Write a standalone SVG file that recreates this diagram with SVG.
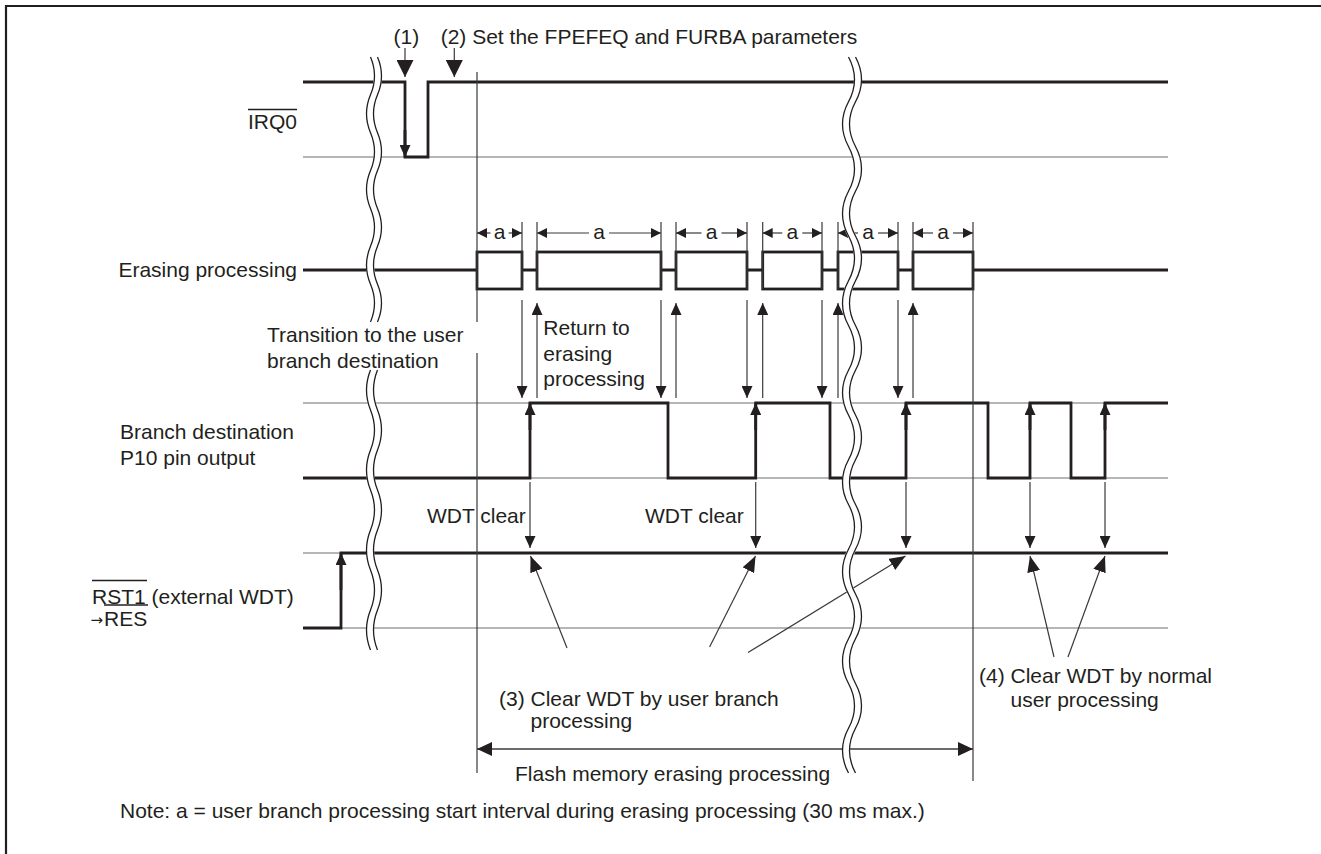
<svg xmlns="http://www.w3.org/2000/svg" width="1321" height="854" viewBox="0 0 1321 854">
<style>
.t{font-family:"Liberation Sans",Arial,Helvetica,sans-serif;font-size:21px;fill:#231f20}
.sig{fill:none;stroke:#231f20;stroke-width:2.8;stroke-linejoin:miter}
.ref{fill:none;stroke:#6d6e70;stroke-width:1.2}
.thin{fill:none;stroke:#3a3a3a;stroke-width:1.2}
.box{fill:#fff;stroke:#231f20;stroke-width:2.8}
.ol{stroke:#231f20;stroke-width:1.4}
.wb{fill:none;stroke:#fff;stroke-width:8}
.wl{fill:none;stroke:#231f20;stroke-width:1.3}
.a{marker-end:url(#mA)}
.d{marker-end:url(#mD)}
.p{marker-end:url(#mP)}
</style>
<defs>
<marker id="mA" markerUnits="userSpaceOnUse" markerWidth="12" markerHeight="11" refX="12" refY="5.5" orient="auto"><path d="M0,0L12,5.5L0,11z" fill="#231f20"/></marker>
<marker id="mL" markerUnits="userSpaceOnUse" markerWidth="17" markerHeight="17" refX="17" refY="8.5" orient="auto"><path d="M0,0L17,8.5L0,17z" fill="#231f20"/></marker>
<marker id="mD" markerUnits="userSpaceOnUse" markerWidth="10" markerHeight="10" refX="10" refY="5" orient="auto"><path d="M0,0L10,5L0,10z" fill="#231f20"/></marker>
<marker id="mP" markerUnits="userSpaceOnUse" markerWidth="16" markerHeight="13" refX="16" refY="6.5" orient="auto"><path d="M0,0L16,6.5L0,13z" fill="#231f20"/></marker>
<marker id="mF" markerUnits="userSpaceOnUse" markerWidth="15" markerHeight="14" refX="15" refY="7" orient="auto-start-reverse"><path d="M0,0L15,7L0,14z" fill="#231f20"/></marker>
<path id="wavyL1" d="M374,57 q8,18.93 0,37.86 t0,37.86 t0,37.86 t0,37.86 t0,37.86 t0,37.86 t0,37.86"/>
<path id="wavyL2" d="M374,370 q-8,20 0,40 t0,40 t0,40 t0,40 t0,40 t0,40 t0,40"/>
<path id="wavyR" d="M852,57 q12,22.375 0,44.75 t0,44.75 t0,44.75 t0,44.75 t0,44.75 t0,44.75 t0,44.75 t0,44.75 t0,44.75 t0,44.75 t0,44.75 t0,44.75 t0,44.75 t0,44.75 t0,44.75 t0,44.75"/>
</defs>

<rect x="0" y="0" width="1321" height="854" fill="#fff"/>
<path d="M6,854 V6 H1321" fill="none" stroke="#231f20" stroke-width="2.2"/>

<g id="irq0">
  <path class="ref" d="M303,157 H1168"/>
  <path class="sig" d="M303,82 H405 V157 H428 V82 H1168"/>
  <path class="sig a" d="M405,130 V157"/>
  <text class="t" x="248" y="129">IRQ0</text>
  <line class="ol" x1="248" y1="109.5" x2="297" y2="109.5"/>
</g>

<g id="erasing">
  <path class="sig" d="M303,270 H477 M522,270 H537 M661,270 H676 M747,270 H762.7 M822,270 H838 M898,270 H913 M973,270 H1168"/>
  <rect class="box" x="477" y="252" width="45" height="37"/>
  <rect class="box" x="537" y="252" width="124" height="37"/>
  <rect class="box" x="676" y="252" width="71" height="37"/>
  <rect class="box" x="762.7" y="252" width="59.3" height="37"/>
  <rect class="box" x="838" y="252" width="60" height="37"/>
  <rect class="box" x="913" y="252" width="60" height="37"/>
  <text class="t" x="297" y="277" text-anchor="end">Erasing processing</text>
</g>

<g id="p10">
  <path class="ref" d="M303,403 H1168 M303,478 H1168"/>
  <path class="sig" d="M303,478 H530 V403 H668 V478 H755.7 V403 H830 V478 H906 V403 H988 V478 H1030 V403 H1071 V478 H1105 V403 H1168"/>
  <path class="sig a" d="M530,430 V403"/>
  <path class="sig a" d="M755.7,430 V403"/>
  <path class="sig a" d="M906,430 V403"/>
  <path class="sig a" d="M1030,430 V403"/>
  <path class="sig a" d="M1105,430 V403"/>
  <text class="t" x="120" y="439">Branch destination</text>
  <text class="t" x="120" y="465">P10 pin output</text>
</g>

<g id="rst1">
  <path class="ref" d="M303,553 H341 M341,628 H1168"/>
  <path class="sig" d="M303,628 H341 V553 H1168"/>
  <path class="sig a" d="M341,590 V553"/>
  <text class="t" x="92" y="604">RST1 (external WDT)</text>
  <line class="ol" x1="92" y1="580.5" x2="147" y2="580.5"/>
  <text x="90.5" y="624.5" font-family="'DejaVu Sans',sans-serif" font-size="15px" fill="#231f20">→</text>
  <text class="t" x="104" y="625.5">RES</text>
  <line class="ol" x1="104" y1="605" x2="148" y2="605"/>
</g>

<g id="connectors">
  <path class="thin" d="M405,48 V77" marker-end="url(#mL)"/>
  <path class="thin" d="M454.3,48 V77" marker-end="url(#mL)"/>
  <path class="thin" d="M477,72 V322 M477,353 V773 M973,222 V781"/>
  <path class="thin" d="M522,222 V289 M537,222 V289 M661,222 V289 M676,222 V289 M747,222 V289 M762.7,222 V289 M822,222 V289 M838,222 V289 M898,222 V289 M913,222 V289"/>
  <path class="thin d" d="M490.5,233 H477"/>
  <path class="thin d" d="M508.5,233 H522"/>
  <path class="thin d" d="M589,233 H537"/>
  <path class="thin d" d="M609,233 H661"/>
  <path class="thin d" d="M701.5,233 H676"/>
  <path class="thin d" d="M721.5,233 H747"/>
  <path class="thin d" d="M782.3,233 H762.7"/>
  <path class="thin d" d="M802.3,233 H822"/>
  <path class="thin d" d="M858,233 H838"/>
  <path class="thin d" d="M878,233 H898"/>
  <path class="thin d" d="M933,233 H913"/>
  <path class="thin d" d="M953,233 H973"/>
  <path class="thin a" d="M522,300 V398"/>
  <path class="thin a" d="M661,300 V398"/>
  <path class="thin a" d="M747,300 V398"/>
  <path class="thin a" d="M822,300 V398"/>
  <path class="thin a" d="M898,300 V398"/>
  <path class="thin a" d="M537,398 V303"/>
  <path class="thin a" d="M676,398 V303"/>
  <path class="thin a" d="M762.7,398 V303"/>
  <path class="thin a" d="M838,398 V303"/>
  <path class="thin a" d="M913,398 V303"/>
  <path class="thin a" d="M530,482 V548"/>
  <path class="thin a" d="M755.7,482 V548"/>
  <path class="thin a" d="M906,482 V548"/>
  <path class="thin a" d="M1030,482 V548"/>
  <path class="thin a" d="M1105,482 V548"/>
  <path class="thin p" d="M567,648 L530.5,556"/>
  <path class="thin p" d="M709.6,647 L755.5,556"/>
  <path class="thin p" d="M748,652.5 L905.5,556"/>
  <path class="thin p" d="M1054,657 L1030,556"/>
  <path class="thin p" d="M1068,657 L1105,556"/>
  <path fill="none" stroke="#3a3a3a" stroke-width="1.6" d="M477,749 H973" marker-start="url(#mF)" marker-end="url(#mF)"/>
</g>

<g id="breaks">
  <use href="#wavyL1" class="wb"/>
  <use href="#wavyL1" class="wl" transform="translate(-3.5,0)"/>
  <use href="#wavyL1" class="wl" transform="translate(3.5,0)"/>
  <use href="#wavyL2" class="wb"/>
  <use href="#wavyL2" class="wl" transform="translate(-3.5,0)"/>
  <use href="#wavyL2" class="wl" transform="translate(3.5,0)"/>
  <use href="#wavyR" class="wb"/>
  <use href="#wavyR" class="wl" transform="translate(-3.5,0)"/>
  <use href="#wavyR" class="wl" transform="translate(3.5,0)"/>
</g>

<g id="labels">
  <text class="t" x="393.5" y="43.5">(1)</text>
  <text class="t" x="440.7" y="43.5">(2) Set the FPEFEQ and FURBA parameters</text>
  <text class="t" text-anchor="middle" x="499.5" y="238.5">a</text>
  <text class="t" text-anchor="middle" x="599" y="238.5">a</text>
  <text class="t" text-anchor="middle" x="711.5" y="238.5">a</text>
  <text class="t" text-anchor="middle" x="792.3" y="238.5">a</text>
  <text class="t" text-anchor="middle" x="868" y="238.5">a</text>
  <text class="t" text-anchor="middle" x="943" y="238.5">a</text>
  <text class="t" x="267" y="342">Transition to the user</text>
  <text class="t" x="267" y="368">branch destination</text>
  <text class="t" x="543.3" y="335">Return to</text>
  <text class="t" x="543.3" y="360.7">erasing</text>
  <text class="t" x="543.3" y="386.3">processing</text>
  <text class="t" x="427" y="523">WDT clear</text>
  <text class="t" x="645" y="523">WDT clear</text>
  <text class="t" x="499" y="706">(3) Clear WDT by user branch</text>
  <text class="t" x="530.5" y="728">processing</text>
  <text class="t" x="979" y="683">(4) Clear WDT by normal</text>
  <text class="t" x="1010.5" y="707">user processing</text>
  <text class="t" x="515" y="781">Flash memory erasing processing</text>
  <text class="t" x="120" y="818">Note: a = user branch processing start interval during erasing processing (30 ms max.)</text>
</g>
</svg>
